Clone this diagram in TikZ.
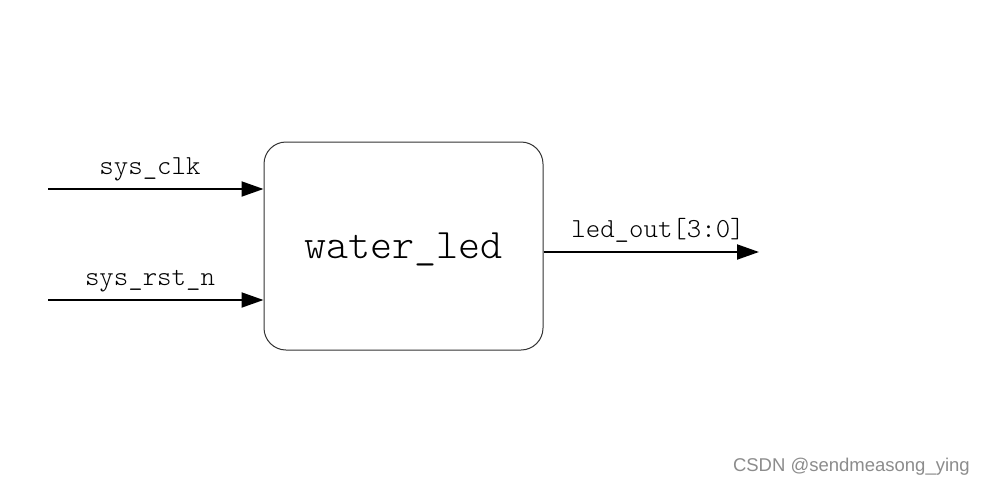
\documentclass[tikz,border=0pt]{standalone}
\usepackage{fontspec}
\newfontfamily\wmfont{Liberation Sans}
\newfontfamily\lightmono{Latin Modern Mono Light}
\usetikzlibrary{arrows.meta}
\tikzset{
  modbox/.style={draw=black!80, line width=1pt, rounded corners=22pt, minimum width=279pt, minimum height=208pt, inner sep=0pt},
  sig/.style={line width=2pt, -{Triangle[length=22pt,width=15pt]}},
  siglabel/.style={anchor=base, inner sep=0pt, font=\lightmono\fontsize{27.5}{30}\selectfont},
}
\begin{document}
\begin{tikzpicture}[x=1pt,y=-1pt]
\useasboundingbox (0,0) rectangle (986,485);
\fill[white] (0,0) rectangle (986,485);
\node[modbox] (box) at (403.5,246) {};
\node[anchor=base, inner sep=0pt, font=\lightmono\fontsize{42}{44}\selectfont] (title) at (403.5,258) {water\_led};
\coordinate (in1) at (48,189);
\coordinate (in2) at (48,300);
\coordinate (out) at (759,252);
\draw[sig] (in1) -- (in1 -| box.west);
\draw[sig] (in2) -- (in2 -| box.west);
\draw[sig] (out -| box.east) -- (out);
\node[siglabel] (l1) at (150,174) {sys\_clk};
\node[siglabel] (l2) at (150,285) {sys\_rst\_n};
\node[siglabel] (l3) at (658,237) {led\_out[3:0]};
\node[anchor=base east, inner sep=0pt, text=black!45, font=\wmfont\fontsize{18.5}{20}\selectfont] (wm) at (970,471) {CSDN @sendmeasong\_ying};
\end{tikzpicture}
\end{document}
